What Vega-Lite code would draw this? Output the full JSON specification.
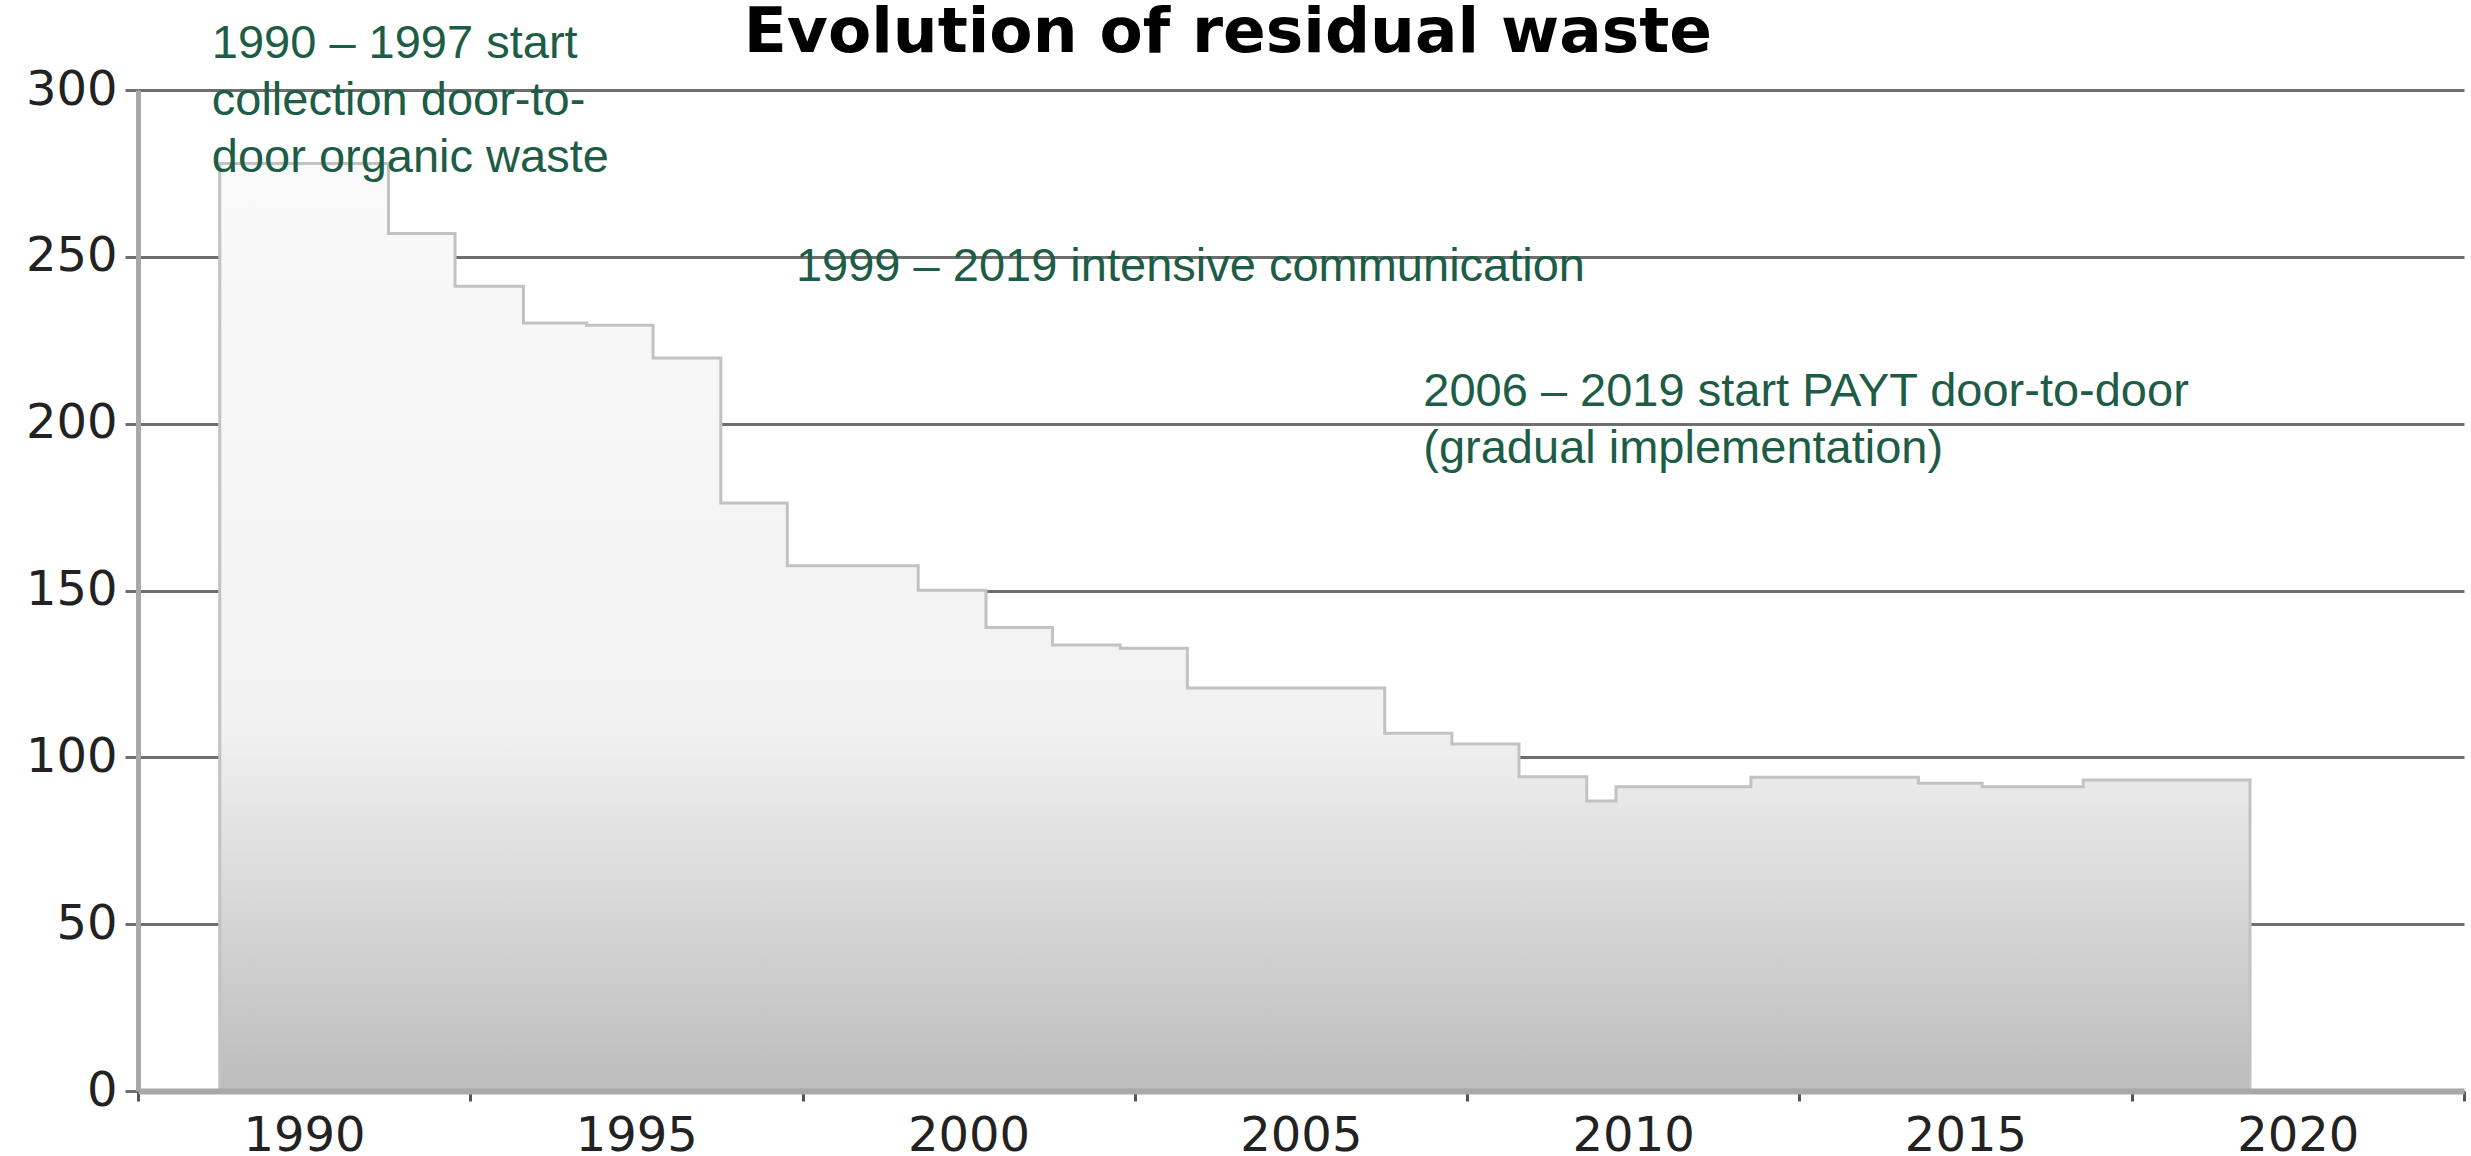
{
  "$schema": "https://vega.github.io/schema/vega-lite/v6.json",
  "width": 2326,
  "height": 1001,
  "autosize": {"type": "none"},
  "padding": {"left": 138, "top": 90, "right": 7, "bottom": 65},
  "background": "white",
  "config": {"view": {"stroke": null}},
  "datasets": {
    "waste": [
      {"year_start": 1988.73, "kg_per_inhabitant": 278},
      {"year_start": 1991.27, "kg_per_inhabitant": 257},
      {"year_start": 1992.27, "kg_per_inhabitant": 241.2},
      {"year_start": 1993.30, "kg_per_inhabitant": 230.2},
      {"year_start": 1994.25, "kg_per_inhabitant": 229.5},
      {"year_start": 1995.25, "kg_per_inhabitant": 219.7},
      {"year_start": 1996.27, "kg_per_inhabitant": 176.2},
      {"year_start": 1997.27, "kg_per_inhabitant": 157.4},
      {"year_start": 1998.26, "kg_per_inhabitant": 157.4},
      {"year_start": 1999.24, "kg_per_inhabitant": 150.1},
      {"year_start": 2000.26, "kg_per_inhabitant": 138.9},
      {"year_start": 2001.26, "kg_per_inhabitant": 133.7},
      {"year_start": 2002.28, "kg_per_inhabitant": 132.7},
      {"year_start": 2003.29, "kg_per_inhabitant": 120.8},
      {"year_start": 2004.28, "kg_per_inhabitant": 120.8},
      {"year_start": 2005.27, "kg_per_inhabitant": 120.8},
      {"year_start": 2006.26, "kg_per_inhabitant": 107.2},
      {"year_start": 2007.27, "kg_per_inhabitant": 104.0},
      {"year_start": 2008.28, "kg_per_inhabitant": 94.2},
      {"year_start": 2009.30, "kg_per_inhabitant": 86.9},
      {"year_start": 2009.74, "kg_per_inhabitant": 91.2},
      {"year_start": 2011.77, "kg_per_inhabitant": 94.0},
      {"year_start": 2014.29, "kg_per_inhabitant": 92.2},
      {"year_start": 2015.25, "kg_per_inhabitant": 91.2},
      {"year_start": 2016.77, "kg_per_inhabitant": 93.2},
      {"year_start": 2019.28, "kg_per_inhabitant": 93.2}
    ],
    "notes": [
      {"note": "1990 – 1997 start\ncollection door-to-\ndoor organic waste", "at_year": 1988.61, "at_value": 309.6},
      {"note": "1999 – 2019 intensive communication", "at_year": 1997.40, "at_value": 242.9},
      {"note": "2006 – 2019 start PAYT door-to-door\n(gradual implementation)", "at_year": 2006.84, "at_value": 205.4}
    ],
    "heading": [
      {"heading": "Evolution of residual waste", "at_year": 2003.9, "at_value": 311.4}
    ]
  },
  "layer": [
    {
      "data": {"name": "waste"},
      "mark": {
        "type": "area",
        "interpolate": "step-after",
        "stroke": "#c2c2c2",
        "strokeWidth": 3,
        "fill": {
          "gradient": "linear",
          "x1": 0, "y1": 0, "x2": 0, "y2": 1,
          "stops": [
            {"offset": 0, "color": "#f9f9f9"},
            {"offset": 0.6, "color": "#f2f2f2"},
            {"offset": 1, "color": "#bcbcbc"}
          ]
        }
      },
      "encoding": {
        "x": {
          "field": "year_start",
          "type": "quantitative",
          "scale": {"domain": [1987.5, 2022.5], "nice": false, "zero": false},
          "axis": {
            "title": null,
            "values": [1987.5, 1992.5, 1997.5, 2002.5, 2007.5, 2012.5, 2017.5, 2022.5],
            "labelExpr": "datum.value < 2022 ? format(datum.value + 2.5, 'd') : ''",
            "labelOffset": 166,
            "labelFlush": false,
            "labelOverlap": false,
            "labelBound": false,
            "labelFont": "DejaVu Sans",
            "labelFontSize": 48,
            "labelColor": "#222222",
            "labelPadding": 11,
            "tickSize": 10,
            "tickWidth": 3,
            "tickColor": "#555555",
            "domainColor": "#a8a8a8",
            "domainWidth": 6,
            "grid": false,
            "zindex": 1
          }
        },
        "y": {
          "field": "kg_per_inhabitant",
          "type": "quantitative",
          "scale": {"domain": [0, 300], "nice": false},
          "axis": {
            "title": null,
            "values": [0, 50, 100, 150, 200, 250, 300],
            "labelFont": "DejaVu Sans",
            "labelFontSize": 48,
            "labelColor": "#222222",
            "labelPadding": 8,
            "tickSize": 13,
            "tickWidth": 3,
            "tickColor": "#6e6e6e",
            "grid": true,
            "gridColor": "#6e6e6e",
            "gridWidth": 3,
            "domainColor": "#a8a8a8",
            "domainWidth": 5
          }
        }
      }
    },
    {
      "data": {"name": "notes"},
      "mark": {
        "type": "text",
        "align": "left",
        "baseline": "alphabetic",
        "font": "Liberation Sans",
        "fontSize": 47,
        "lineHeight": 57,
        "lineBreak": "\n",
        "color": "#1d5c47"
      },
      "encoding": {
        "x": {"field": "at_year", "type": "quantitative"},
        "y": {"field": "at_value", "type": "quantitative"},
        "text": {"field": "note"}
      }
    },
    {
      "data": {"name": "heading"},
      "mark": {
        "type": "text",
        "align": "center",
        "baseline": "alphabetic",
        "font": "DejaVu Sans",
        "fontSize": 63,
        "fontWeight": "bold",
        "color": "#000000"
      },
      "encoding": {
        "x": {"field": "at_year", "type": "quantitative"},
        "y": {"field": "at_value", "type": "quantitative"},
        "text": {"field": "heading"}
      }
    }
  ]
}
